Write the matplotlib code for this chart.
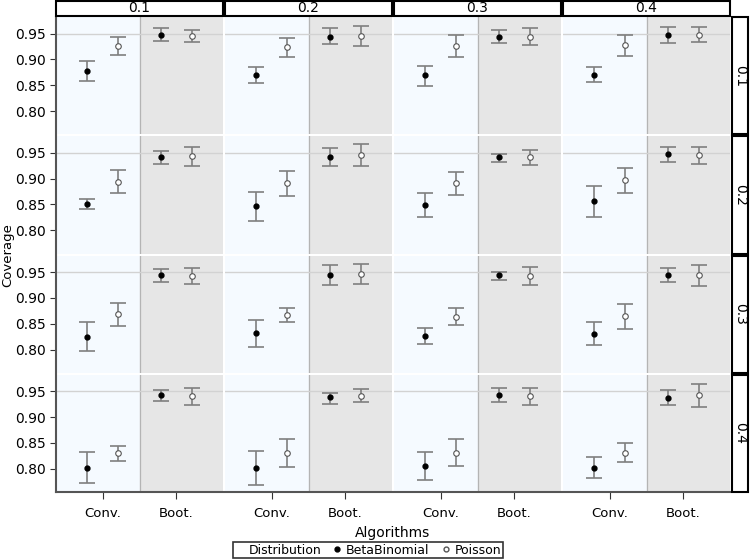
import matplotlib.pyplot as plt
from matplotlib.lines import Line2D
from matplotlib.patches import Rectangle

# facet levels
col_levels = ['0.1', '0.2', '0.3', '0.4']
row_levels = ['0.1', '0.2', '0.3', '0.4']
algorithms = ['Conv.', 'Boot.']
distributions = ['BetaBinomial', 'Poisson']

# coverage[row][col] = [Conv, Boot] for each distribution, with lower/upper limits
bb_mean = [
    [[0.878, 0.948], [0.870, 0.944], [0.870, 0.944], [0.870, 0.947]],
    [[0.851, 0.942], [0.846, 0.942], [0.849, 0.941], [0.856, 0.948]],
    [[0.824, 0.944], [0.832, 0.944], [0.826, 0.944], [0.830, 0.945]],
    [[0.802, 0.942], [0.801, 0.938], [0.806, 0.943], [0.802, 0.937]],
]
bb_low = [
    [[0.859, 0.936], [0.855, 0.930], [0.849, 0.931], [0.856, 0.931]],
    [[0.842, 0.929], [0.818, 0.924], [0.826, 0.933], [0.825, 0.933]],
    [[0.797, 0.931], [0.804, 0.925], [0.810, 0.935], [0.808, 0.930]],
    [[0.772, 0.931], [0.768, 0.926], [0.778, 0.930], [0.782, 0.923]],
]
bb_high = [
    [[0.896, 0.961], [0.885, 0.960], [0.888, 0.956], [0.886, 0.963]],
    [[0.860, 0.954], [0.874, 0.960], [0.872, 0.948], [0.885, 0.961]],
    [[0.853, 0.956], [0.858, 0.963], [0.842, 0.951], [0.854, 0.958]],
    [[0.832, 0.953], [0.834, 0.947], [0.832, 0.956], [0.823, 0.953]],
]
po_mean = [
    [[0.926, 0.945], [0.923, 0.945], [0.925, 0.944], [0.928, 0.947]],
    [[0.894, 0.943], [0.891, 0.946], [0.891, 0.942], [0.897, 0.946]],
    [[0.869, 0.942], [0.867, 0.947], [0.863, 0.942], [0.864, 0.944]],
    [[0.830, 0.940], [0.831, 0.941], [0.831, 0.940], [0.831, 0.942]],
]
po_low = [
    [[0.909, 0.934], [0.904, 0.926], [0.904, 0.928], [0.907, 0.933]],
    [[0.873, 0.924], [0.866, 0.924], [0.869, 0.927], [0.873, 0.928]],
    [[0.845, 0.926], [0.854, 0.927], [0.848, 0.924], [0.840, 0.922]],
    [[0.815, 0.923], [0.804, 0.929], [0.805, 0.923], [0.813, 0.919]],
]
po_high = [
    [[0.944, 0.956], [0.942, 0.965], [0.947, 0.960], [0.947, 0.963]],
    [[0.917, 0.962], [0.915, 0.967], [0.913, 0.956], [0.920, 0.962]],
    [[0.891, 0.958], [0.880, 0.966], [0.880, 0.959], [0.888, 0.963]],
    [[0.844, 0.956], [0.858, 0.954], [0.858, 0.957], [0.850, 0.965]],
]

conv_bg = '#f5faff'
boot_bg = '#e6e6e6'
err_color = '#7f7f7f'
dodge = 0.21

fig = plt.figure(figsize=(7.5, 5.6), dpi=100)
W, H = 750.0, 560.0
left, right, top, bottom = 56, 730, 17, 492
n = 4
gap = 2
pw = (right - left - gap * (n - 1)) / n
ph = (bottom - top - gap * (n - 1)) / n

x_pos = [0, 1]

for r in range(n):
    for c in range(n):
        x0 = left + c * (pw + gap)
        y0 = top + r * (ph + gap)
        ax = fig.add_axes([x0 / W, 1 - (y0 + ph) / H, pw / W, ph / H])
        ax.set_xlim(-0.636, 1.636)
        ax.set_ylim(0.755, 0.982)
        ax.set_facecolor('white')
        ax.axvspan(-0.636, 0.5, color=conv_bg, zorder=0)
        ax.axvspan(0.5, 1.636, color=boot_bg, zorder=0)
        ax.axvline(0.5, color='#b4b4b4', lw=0.9, zorder=1)
        ax.axhline(0.95, color='#d2d2d2', lw=1.0, zorder=1)

        for means, lows, highs, off, face in [
            (bb_mean, bb_low, bb_high, -dodge, 'black'),
            (po_mean, po_low, po_high, dodge, 'none'),
        ]:
            m = means[r][c]
            lo = [m[i] - lows[r][c][i] for i in range(2)]
            hi = [highs[r][c][i] - m[i] for i in range(2)]
            xs = [x + off for x in x_pos]
            ax.errorbar(xs, m, yerr=[lo, hi], fmt='none', ecolor=err_color,
                        elinewidth=1.2, capsize=6, capthick=1.2, zorder=2)
            if face == 'black':
                ax.plot(xs, m, 'o', ms=3.5, color='black', zorder=3)
            else:
                ax.plot(xs, m, 'o', ms=4, mfc='white', mec='#555555',
                        mew=0.8, zorder=3)

        for s in ['top', 'right']:
            ax.spines[s].set_visible(False)
        ax.spines['left'].set_visible(c == 0)
        ax.spines['bottom'].set_visible(r == n - 1)
        ax.spines['left'].set_color('#555555')
        ax.spines['bottom'].set_color('#555555')
        ax.spines['left'].set_linewidth(1.5)
        ax.spines['bottom'].set_linewidth(1.5)

        if c == 0:
            ax.set_yticks([0.80, 0.85, 0.90, 0.95])
            ax.set_yticklabels(['0.80', '0.85', '0.90', '0.95'], fontsize=10)
            ax.tick_params(axis='y', length=4, color='#333333', pad=3)
        else:
            ax.set_yticks([])
        if r == n - 1:
            ax.set_xticks(x_pos)
            ax.set_xticklabels(algorithms, fontsize=9.5)
            ax.tick_params(axis='x', length=5, color='#333333', pad=6)
        else:
            ax.set_xticks([])

        # column strip
        if r == 0:
            fig.patches.append(Rectangle((x0 / W, 1 - 16 / H), pw / W, 15 / H,
                                         transform=fig.transFigure, fc='white',
                                         ec='black', lw=1.5))
            fig.text((x0 + pw / 2) / W, 1 - 8.5 / H, col_levels[c],
                     ha='center', va='center', fontsize=10)
        # row strip
        if c == n - 1:
            fig.patches.append(Rectangle((732 / W, 1 - (y0 + ph) / H), 16 / W, ph / H,
                                         transform=fig.transFigure, fc='white',
                                         ec='black', lw=1.5))
            fig.text(740 / W, 1 - (y0 + ph / 2) / H, row_levels[r],
                     ha='center', va='center', rotation=270, fontsize=10)

fig.text(8 / W, 1 - 255 / H, 'Coverage', rotation=90, ha='center',
         va='center', fontsize=9.5)
fig.text(393 / W, 1 - 533 / H, 'Algorithms', ha='center', va='center',
         fontsize=10)

handles = [Line2D([], [], lw=0, marker=None),
           Line2D([], [], lw=0, marker='o', ms=3.5, color='black'),
           Line2D([], [], lw=0, marker='o', ms=3.5, mfc='white', mec='#555555')]
leg = fig.legend(handles, ['Distribution'] + distributions, ncol=3,
                 loc='center', bbox_to_anchor=(368 / W, 1 - 550 / H),
                 frameon=True, fancybox=False, edgecolor='black', fontsize=9,
                 handlelength=0.8, handletextpad=0.3, columnspacing=0.9,
                 borderpad=0.15, borderaxespad=0)
leg.get_frame().set_linewidth(1.2)

fig.savefig('out.png', dpi=100)
